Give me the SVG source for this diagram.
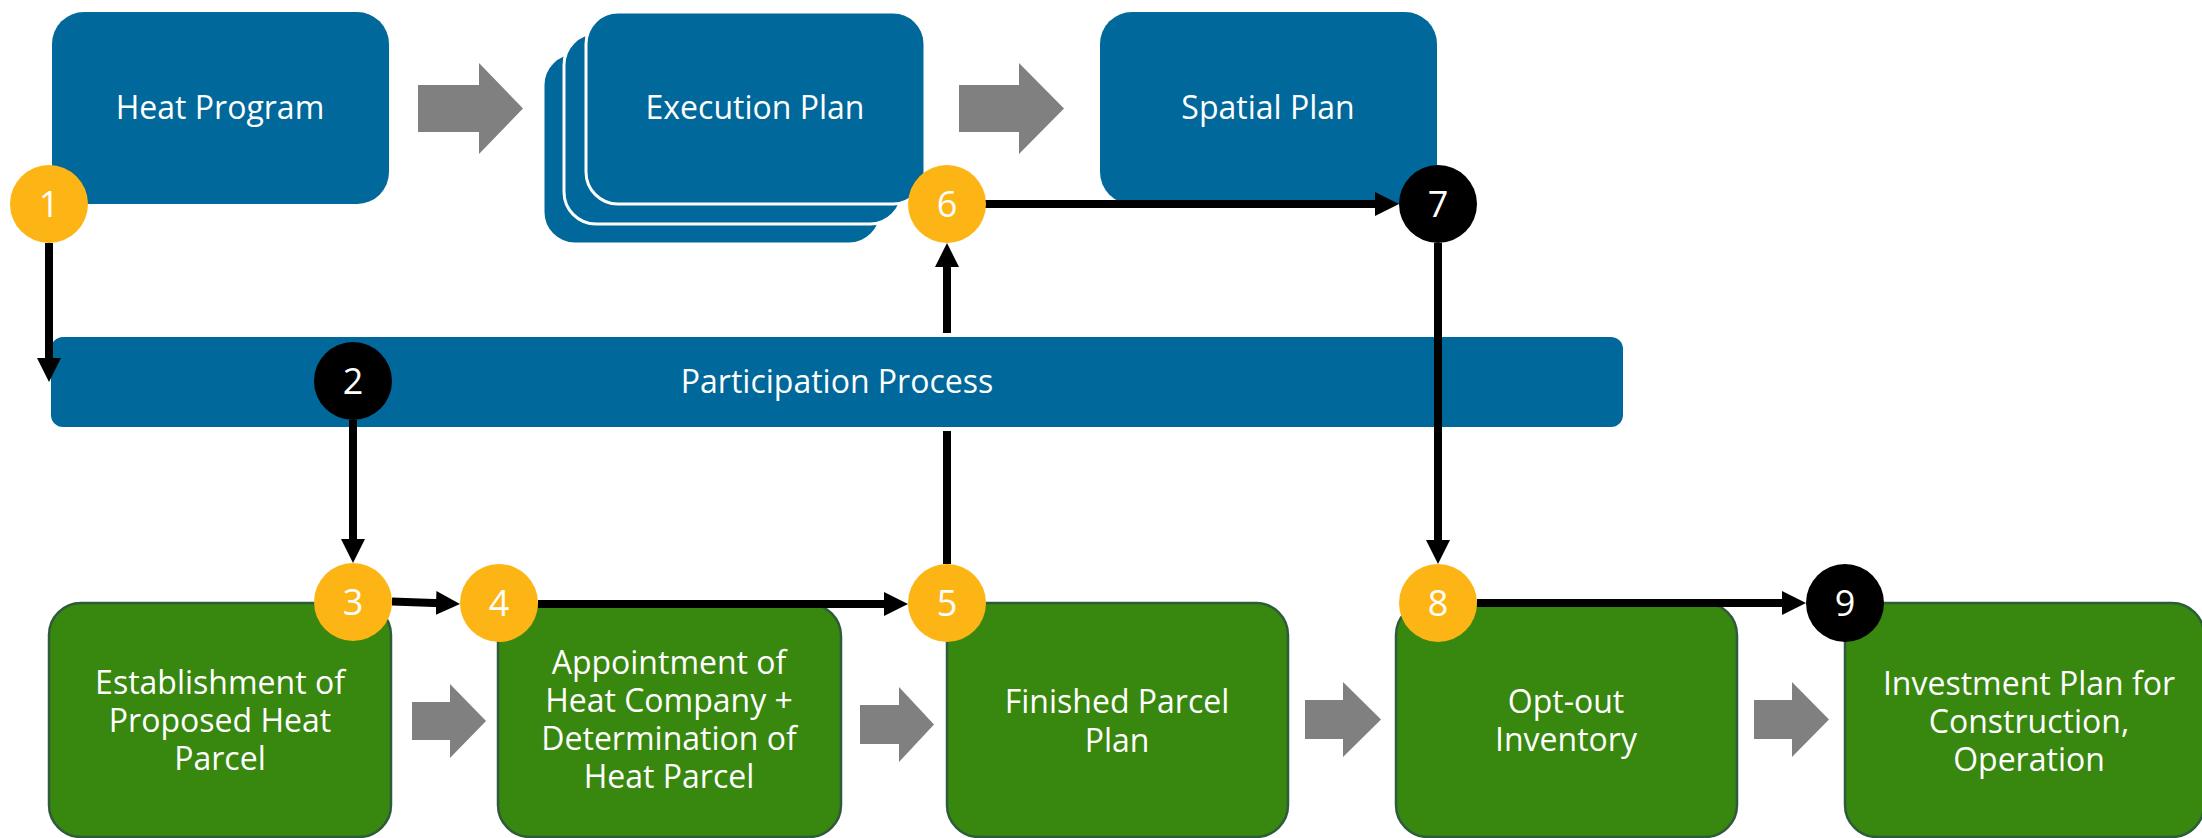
<svg xmlns="http://www.w3.org/2000/svg" width="2202" height="838" viewBox="0 0 2202 838">
<style>
.blue{fill:#00689A}
.stack{fill:#00689A;stroke:#ffffff;stroke-width:3}
.green{fill:#38870E;stroke:#2E5B3C;stroke-width:2.5}
.gray{fill:#808080}
.t{font-family:"Open Sans","Liberation Sans",sans-serif;font-size:32px;fill:#ffffff;text-anchor:middle}
.n{font-family:"Open Sans","Liberation Sans",sans-serif;font-size:36px;fill:#ffffff;text-anchor:middle}
.conn{stroke:#000;stroke-width:8;fill:none;marker-end:url(#ah)}
.y{fill:#FDB515}
.k{fill:#000}
</style>
<defs>
<marker id="ah" markerUnits="userSpaceOnUse" markerWidth="24" markerHeight="24" refX="12" refY="12" orient="auto">
<path d="M0,0 L24,12 L0,24 z" fill="#000"/>
</marker>
</defs>
<rect width="2202" height="838" fill="#ffffff"/>

<g id="heat-program">
<rect class="blue" x="52" y="12" width="337" height="192" rx="32"/>
<text class="t" x="220" y="119">Heat Program</text>
</g>
<g id="arrow-top-1"><polygon class="gray" points="418,85 479,85 479,63 523,108.5 479,154 479,132 418,132"/></g>
<g id="execution-plan">
<rect class="stack" x="543" y="53" width="338" height="191" rx="32"/>
<rect class="stack" x="564" y="33" width="338" height="191" rx="32"/>
<rect class="stack" x="586" y="12" width="339" height="192" rx="32"/>
<text class="t" x="755" y="119">Execution Plan</text>
</g>
<g id="arrow-top-2"><polygon class="gray" points="959,85 1019,85 1019,63 1064,108.5 1019,154 1019,132 959,132"/></g>
<g id="spatial-plan">
<rect class="blue" x="1100" y="12" width="337" height="192" rx="32"/>
<text class="t" x="1268" y="119">Spatial Plan</text>
</g>

<g id="participation-process">
<rect class="blue" x="51" y="337" width="1572" height="90" rx="12"/>
<text class="t" x="837" y="393">Participation Process</text>
</g>

<g id="establishment">
<rect class="green" x="49" y="603" width="342" height="234" rx="32"/>
<text class="t" x="220" y="694">Establishment of</text>
<text class="t" x="220" y="732">Proposed Heat</text>
<text class="t" x="220" y="770">Parcel</text>
</g>
<g id="arrow-bot-1"><polygon class="gray" points="412,702 450,702 450,684 486,721 450,758 450,740 412,740"/></g>
<g id="appointment">
<rect class="green" x="498" y="604" width="343" height="233" rx="32"/>
<text class="t" x="669" y="674">Appointment of</text>
<text class="t" x="669" y="712">Heat Company +</text>
<text class="t" x="669" y="750">Determination of</text>
<text class="t" x="669" y="788">Heat Parcel</text>
</g>
<g id="arrow-bot-2"><polygon class="gray" points="860,705 899,705 899,687 934,724.5 899,762 899,744 860,744"/></g>
<g id="finished-parcel-plan">
<rect class="green" x="947" y="603" width="341" height="234" rx="32"/>
<text class="t" x="1117" y="713">Finished Parcel</text>
<text class="t" x="1117" y="752">Plan</text>
</g>
<g id="arrow-bot-3"><polygon class="gray" points="1305,700 1343,700 1343,682 1381,719.5 1343,757 1343,739 1305,739"/></g>
<g id="opt-out-inventory">
<rect class="green" x="1396" y="603" width="341" height="234" rx="32"/>
<text class="t" x="1566" y="713">Opt-out</text>
<text class="t" x="1566" y="751">Inventory</text>
</g>
<g id="arrow-bot-4"><polygon class="gray" points="1754,700 1792,700 1792,682 1829,719.5 1792,757 1792,739 1754,739"/></g>
<g id="investment-plan">
<rect class="green" x="1845" y="603" width="359" height="234" rx="32"/>
<text class="t" x="2029" y="695">Investment Plan for</text>
<text class="t" x="2029" y="733">Construction,</text>
<text class="t" x="2029" y="771">Operation</text>
</g>

<g id="connectors">
<line class="conn" x1="49" y1="243" x2="49" y2="370"/>
<line class="conn" x1="353" y1="420" x2="353" y2="551"/>
<line class="conn" x1="392" y1="601.5" x2="448" y2="603.5"/>
<line class="conn" x1="538" y1="604" x2="896" y2="604"/>
<line x1="947" y1="564" x2="947" y2="431" stroke="#000" stroke-width="8"/>
<line class="conn" x1="947" y1="333" x2="947" y2="255"/>
<line class="conn" x1="947" y1="204" x2="1387" y2="204"/>
<line class="conn" x1="1438" y1="243" x2="1438" y2="552"/>
<line class="conn" x1="1477" y1="603" x2="1794" y2="603"/>
</g>

<g id="badge-1"><circle class="y" cx="49" cy="204" r="39"/><text class="n" x="49" y="217">1</text></g>
<g id="badge-2"><circle class="k" cx="353" cy="381" r="39"/><text class="n" x="353" y="394">2</text></g>
<g id="badge-3"><circle class="y" cx="353" cy="602" r="39"/><text class="n" x="353" y="615">3</text></g>
<g id="badge-4"><circle class="y" cx="499" cy="603" r="39"/><text class="n" x="499" y="616">4</text></g>
<g id="badge-5"><circle class="y" cx="947" cy="603" r="39"/><text class="n" x="947" y="616">5</text></g>
<g id="badge-6"><circle class="y" cx="947" cy="204" r="39"/><text class="n" x="947" y="217">6</text></g>
<g id="badge-7"><circle class="k" cx="1438" cy="204" r="39"/><text class="n" x="1438" y="217">7</text></g>
<g id="badge-8"><circle class="y" cx="1438" cy="603" r="39"/><text class="n" x="1438" y="616">8</text></g>
<g id="badge-9"><circle class="k" cx="1845" cy="603" r="39"/><text class="n" x="1845" y="616">9</text></g>
</svg>
